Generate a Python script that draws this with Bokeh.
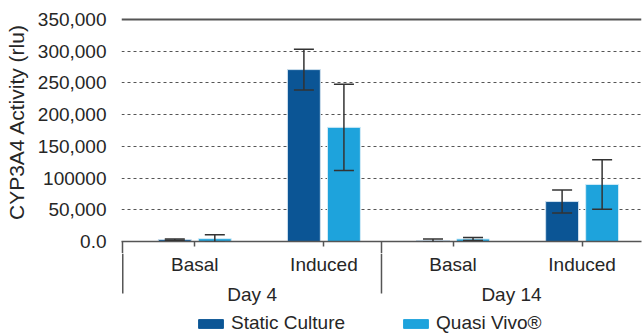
from bokeh.plotting import figure
from bokeh.layouts import column
from bokeh.models import (ColumnDataSource, FixedTicker, Whisker, TeeHead, Span,
                          Range1d, Legend, LegendItem)
from bokeh.core.properties import value
from bokeh.embed import file_html
from bokeh.resources import INLINE

# CYP3A4 activity, static culture vs Quasi Vivo, per day and condition
days = ["Day 4", "Day 14"]
conditions = ["Basal", "Induced"]
static_culture = [3000, 271000, 1500, 63000]
static_err = [900, 32000, 2500, 18000]
quasi_vivo = [4500, 180000, 4000, 90000]
quasi_err = [6000, 68000, 2500, 39000]

y_ticks = [0, 50000, 100000, 150000, 200000, 250000, 300000, 350000]
y_tick_labels = ["0.0", "50,000", "100000", "150,000", "200,000",
                 "250,000", "300,000", "350,000"]

FONT = "Liberation Sans"
TEXT = "#262626"
RULE = "#555555"
DARK = "#0b5595"
LIGHT = "#1ea3dc"

W, H = 642, 334
LEFT, RIGHT = 121, 1
CHART_TOP, AXIS_PAD = 2, 12
CHART_H = 241 + AXIS_PAD                    # upper figure: bars and value axis
FOOT_H = H - CHART_H                        # lower figure: categories and legend
Y_TOP_TICK = 350000
px_per_unit = 222 / Y_TOP_TICK              # 350k spans 222 px
y_end = Y_TOP_TICK + 17 / px_per_unit       # headroom above the top rule

# group boundaries along x (category index units)
day_bounds = [-0.558, 1.446, 3.46]
x_start = -0.5678

# one x slot per (day, condition)
x_pos = list(range(len(days) * len(conditions)))
cond_labels = [c for _ in days for c in conditions]
offset, bar_w = 0.155, 0.255

src = ColumnDataSource(dict(
    x_static=[x - offset for x in x_pos],
    x_quasi=[x + offset for x in x_pos],
    static=static_culture,
    static_lo=[v - e for v, e in zip(static_culture, static_err)],
    static_hi=[v + e for v, e in zip(static_culture, static_err)],
    quasi=quasi_vivo,
    quasi_lo=[v - e for v, e in zip(quasi_vivo, quasi_err)],
    quasi_hi=[v + e for v, e in zip(quasi_vivo, quasi_err)],
))

p = figure(width=W, height=CHART_H, x_range=Range1d(x_start, day_bounds[-1]),
           y_range=Range1d(0, y_end), output_backend="svg", toolbar_location=None,
           min_border_left=LEFT, min_border_right=RIGHT,
           min_border_top=CHART_TOP, min_border_bottom=AXIS_PAD)
p.outline_line_color = None
p.background_fill_color = "white"
p.border_fill_color = "white"

# value axis: labels and title only
yax = p.yaxis[0]
yax.ticker = FixedTicker(ticks=y_ticks)
yax.major_label_overrides = {t: s for t, s in zip(y_ticks, y_tick_labels)}
yax.axis_line_color = None
yax.major_tick_line_color = None
yax.minor_tick_line_color = None
yax.major_label_standoff = 9
yax.major_label_text_font = FONT
yax.major_label_text_font_size = "19px"
yax.major_label_text_color = TEXT
yax.axis_label = "CYP3A4 Activity (rlu)"
yax.axis_label_text_font = FONT
yax.axis_label_text_font_size = "21px"
yax.axis_label_text_font_style = "normal"
yax.axis_label_text_color = TEXT
yax.axis_label_standoff = 7

# dashed gridlines, solid rule on top
p.xgrid.visible = False
p.ygrid.ticker = FixedTicker(ticks=y_ticks[1:-1])
p.ygrid.grid_line_color = RULE
p.ygrid.grid_line_dash = "3 3"
p.ygrid.grid_line_width = 1.2
p.add_layout(Span(location=Y_TOP_TICK, dimension="width",
                  line_color=RULE, line_width=2))

# category axis: short ticks at categories, separator stubs at group bounds
xax = p.xaxis[0]
xax.ticker = FixedTicker(ticks=day_bounds[:-1], minor_ticks=x_pos)
xax.axis_line_color = RULE
xax.axis_line_width = 1.5
xax.major_tick_line_color = RULE
xax.major_tick_line_width = 1.5
xax.major_tick_out = AXIS_PAD
xax.major_tick_in = 0
xax.minor_tick_line_color = RULE
xax.minor_tick_line_width = 1.5
xax.minor_tick_out = 5
xax.minor_tick_in = 0
xax.major_label_standoff = 0
xax.major_label_text_font_size = "0px"
xax.major_label_text_alpha = 0

bar_line = dict(line_width=1)
p.vbar(x="x_static", top="static", width=bar_w, source=src,
       fill_color=DARK, line_color="#cfe0ee", **bar_line)
p.vbar(x="x_quasi", top="quasi", width=bar_w, source=src,
       fill_color=LIGHT, line_color="#d4ecf7", **bar_line)

for xs, lo, hi in (("x_static", "static_lo", "static_hi"),
                   ("x_quasi", "quasi_lo", "quasi_hi")):
    p.add_layout(Whisker(
        source=src, base=xs, lower=lo, upper=hi, level="overlay",
        line_color="#333333", line_width=1.5,
        upper_head=TeeHead(size=20, line_color="#333333", line_width=1.5),
        lower_head=TeeHead(size=20, line_color="#333333", line_width=1.5)))

# lower strip: category names, group names, separators, legend
# (y in pixels measured up from the bottom of the page)
f = figure(width=W, height=FOOT_H, x_range=p.x_range, y_range=Range1d(0, FOOT_H),
           output_backend="svg", toolbar_location=None,
           x_axis_location=None, y_axis_location=None,
           min_border_left=LEFT, min_border_right=RIGHT,
           min_border_top=0, min_border_bottom=0)
f.outline_line_color = None
f.grid.visible = False
f.background_fill_color = "white"
f.border_fill_color = "white"

n_sep = len(day_bounds) - 1
f.segment(x0=day_bounds[:-1], x1=day_bounds[:-1],
          y0=[FOOT_H] * n_sep, y1=[41] * n_sep,
          line_color=RULE, line_width=1.5)

text_style = dict(text_align="center", text_baseline="alphabetic",
                  text_font=value(FONT), text_font_size="19px", text_color=TEXT)
f.text(x=x_pos, y=[69.7] * len(x_pos), text=cond_labels, **text_style)
f.text(x=[(a + b) / 2 for a, b in zip(day_bounds[:-1], day_bounds[1:])],
       y=[40.5] * len(days), text=days, **text_style)

# legend keys: renderers parked far left of the visible x range
key_src = ColumnDataSource(dict(x=[x_start - 50], top=[-50]))
k_static = f.vbar(x="x", top="top", bottom=-60, width=bar_w, source=key_src,
                  fill_color=DARK, line_color=DARK)
k_quasi = f.vbar(x="x", top="top", bottom=-60, width=bar_w, source=key_src,
                 fill_color=LIGHT, line_color=LIGHT)
legend = Legend(items=[LegendItem(label="Static Culture", renderers=[k_static]),
                       LegendItem(label="Quasi Vivo®", renderers=[k_quasi])],
                orientation="horizontal", location=(74, 0),
                padding=0, margin=0, spacing=55, glyph_width=31, glyph_height=11,
                label_standoff=5, border_line_color=None,
                background_fill_alpha=0, label_text_font=FONT,
                label_text_font_size="19px", label_text_color=TEXT)
f.add_layout(legend, "center")

page = column(p, f, spacing=0)
open("out.html", "w").write(file_html(page, INLINE))
